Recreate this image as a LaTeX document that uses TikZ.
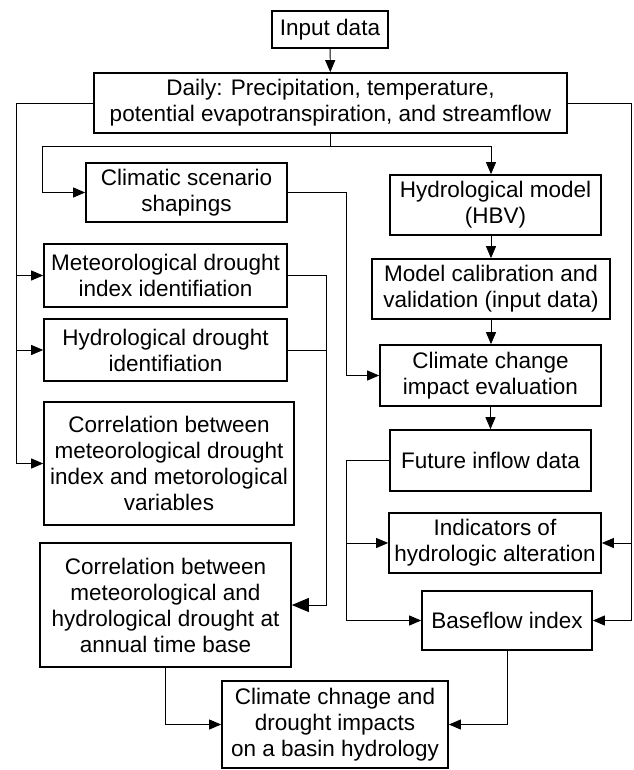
\documentclass[tikz,border=0pt]{standalone}
\usepackage{fontspec}
\setmainfont{Liberation Sans}
\usetikzlibrary{arrows.meta}

\begin{document}
\begin{tikzpicture}[x=1pt,y=-1pt,
  box/.style={draw,line width=1.7pt,align=center,inner sep=1pt,font=\fontsize{22.5pt}{26pt}\selectfont},
  arr/.style={line width=0.9pt,-{Triangle[length=12pt,width=10pt]}},
  bigarr/.style={line width=0.9pt,-{Triangle[length=17pt,width=14pt]}}]
\useasboundingbox (0,0) rectangle (633,770);
\node[box,minimum width=116pt,minimum height=37pt] (inp) at (330,29.5) {Input data};
\node[box,minimum width=473pt,minimum height=60pt] (daily) at (330.5,103) {Daily: Precipitation, temperature,\\potential evapotranspiration, and streamflow};
\node[box,minimum width=201pt,minimum height=59pt] (clim) at (186.5,192.5) {Climatic scenario\\shapings};
\node[box,minimum width=211pt,minimum height=60pt] (hbv) at (495.5,205) {Hydrological model\\(HBV)};
\node[box,minimum width=238pt,minimum height=60pt] (calib) at (491,289) {Model calibration and\\validation (input data)};
\node[box,minimum width=243pt,minimum height=63pt] (met) at (165.5,275.5) {Meteorological drought\\index identifiation};
\node[box,minimum width=243pt,minimum height=62pt] (hyd) at (165.5,350) {Hydrological drought\\identifiation};
\node[box,minimum width=221pt,minimum height=61pt] (cce) at (490.5,375.5) {Climate change\\impact evaluation};
\node[box,minimum width=250pt,minimum height=123pt] (corrA) at (169,463.5) {Correlation between\\meteorological drought\\index and metorological\\variables};
\node[box,minimum width=201pt,minimum height=61pt] (fut) at (490.5,460.5) {Future inflow data};
\node[box,minimum width=212pt,minimum height=60pt] (iha) at (495,543) {Indicators of\\hydrologic alteration};
\node[box,minimum width=251pt,minimum height=124pt] (corrB) at (165.5,605) {Correlation between\\meteorological and\\hydrological drought at\\annual time base};
\node[box,minimum width=170pt,minimum height=59pt] (bfi) at (507,620.5) {Baseflow index};
\node[box,minimum width=226pt,minimum height=87pt] (fin) at (335,724.5) {Climate chnage and\\drought impacts\\on a basin hydrology};
\coordinate (lx) at (16,0);
\coordinate (rx) at (631,0);
\coordinate (bl) at (42,0);
\coordinate (cx) at (346,0);
\coordinate (dx) at (326,0);
\draw[arr] (inp) -- (daily);
\draw[arr] (daily.west) -| (lx |- corrA.west) -- (corrA.west);
\foreach \n in {met,hyd}{\draw[arr] (lx |- \n.west) -- (\n.west);}
\draw[arr] (daily.east) -| (rx |- bfi.east) -- (bfi.east);
\draw[arr] (rx |- iha.east) -- (iha.east);
\draw[line width=0.9pt] (daily.south) -- ++(0,13) coordinate (br);
\draw[arr] (br) -| (bl |- clim.west) -- (clim.west);
\draw[arr] (br) -| (hbv.north -| calib.north);
\draw[arr] (hbv.south -| calib.north) -- (calib.north);
\draw[arr] (calib.south) -- (calib.south |- cce.north);
\draw[arr] (cce.south) -- (cce.south |- fut.north);
\draw[arr] (clim.east) -| (cx |- cce.west) -- (cce.west);
\draw[arr] (fut.west) -| (cx |- bfi.west) -- (bfi.west);
\draw[arr] (cx |- iha.west) -- (iha.west);
\draw[bigarr] (met.east) -| (dx |- corrB.east) -- (corrB.east);
\draw[line width=0.9pt] (hyd.east) -- (dx |- hyd.east);
\draw[arr] (corrB.south) |- (fin.west);
\draw[arr] (bfi.south) |- (fin.east);
\end{tikzpicture}
\end{document}
